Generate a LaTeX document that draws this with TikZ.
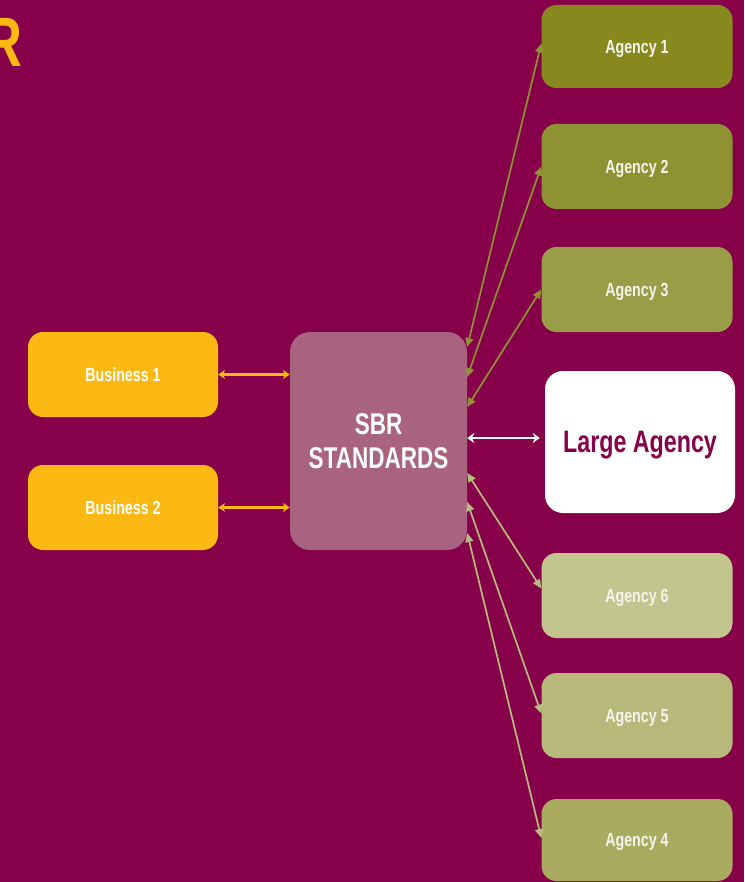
\documentclass[tikz,border=0pt]{standalone}
\usepackage{fontspec}
\setmainfont{Liberation Sans}
\newfontfamily\condfont[FakeStretch=0.75]{Liberation Sans Bold}
\usetikzlibrary{arrows.meta,calc}
\definecolor{bgc}{HTML}{87004A}
\definecolor{bizc}{HTML}{FDB913}
\definecolor{sbrc}{HTML}{A8637F}
\definecolor{ag1c}{HTML}{87891E}
\definecolor{ag2c}{HTML}{8F9233}
\definecolor{ag3c}{HTML}{9A9D48}
\definecolor{ag4c}{HTML}{A9AC60}
\definecolor{ag5c}{HTML}{B6B97A}
\definecolor{ag6c}{HTML}{C3C58E}
\definecolor{txtc}{HTML}{F4F4EC}
\definecolor{darkarr}{HTML}{8F9233}
\definecolor{lightarr}{HTML}{B8BB7E}
\tikzset{
  box/.style={rectangle, rounded corners=15pt, minimum width=191pt, minimum height=85pt,
    inner sep=0pt, text depth=0pt, text=txtc, font=\condfont\fontsize{19}{22}\selectfont},
  bizbox/.style={box, fill=bizc, minimum width=190pt, text=white},
  olivearr/.style={draw=darkarr, line width=1.7pt, {Triangle[width=8pt,length=9pt]}-{Triangle[width=8pt,length=9pt]}},
  lightolivearr/.style={olivearr, draw=lightarr},
}
\begin{document}
\begin{tikzpicture}[x=1pt,y=-1pt]
\fill[bgc] (0,0) rectangle (744,882);
\useasboundingbox (0,0) rectangle (744,882);
\begin{scope}
\clip (0,0) rectangle (744,882);
\node[anchor=base east, inner sep=0pt, text=bizc, font=\condfont\fontsize{70}{70}\selectfont] (rr) at (23,67) {R};
\end{scope}
% Businesses
\node[bizbox] (b1) at (123,374.5) {Business 1};
\node[bizbox] (b2) at (123,507.5) {Business 2};
% SBR
\node[rectangle, rounded corners=20pt, fill=sbrc, minimum width=177pt, minimum height=218pt, inner sep=0pt,
  text=white, align=center, font=\condfont\fontsize{30}{34}\selectfont] (sbr) at (378.5,441) {SBR\\STANDARDS};
% Agencies
\node[box, fill=ag1c, minimum height=83pt] (a1) at (637,46.5) {Agency 1};
\node[box, fill=ag2c] (a2) at (637,166.5) {Agency 2};
\node[box, fill=ag3c] (a3) at (637,289.5) {Agency 3};
\node[box, fill=white, rounded corners=18pt, minimum width=190pt, minimum height=142pt, text=bgc,
  font=\condfont\fontsize{31}{34}\selectfont] (la) at (640,442) {Large Agency};
\node[box, fill=ag6c] (a6) at (637,595.5) {Agency 6};
\node[box, fill=ag5c] (a5) at (637,715.5) {Agency 5};
\node[box, fill=ag4c, minimum height=82pt] (a4) at (637,840) {Agency 4};
% Business connectors
\draw[bizc, line width=2.4pt, {Stealth[width=9pt,length=7pt]}-{Stealth[width=9pt,length=7pt]}]
  (b1.east) -- (b1.east -| sbr.west);
\draw[bizc, line width=2.4pt, {Stealth[width=9pt,length=7pt]}-{Stealth[width=9pt,length=7pt]}]
  (b2.east) -- (b2.east -| sbr.west);
% Large agency connector
\draw[white, line width=2.6pt, {Stealth[width=10pt,length=7pt]}-{Stealth[width=10pt,length=7pt]}, shorten >=5pt]
  ([yshift=4pt]la.west -| sbr.east) -- ([yshift=4pt]la.west);
% Agency connectors
\draw[olivearr] ([yshift=94pt]sbr.east) -- ([yshift=3pt]a1.west);
\draw[olivearr] ([yshift=64pt]sbr.east) -- (a2.west);
\draw[olivearr] ([yshift=34pt]sbr.east) -- (a3.west);
\draw[lightolivearr] ([yshift=-32pt]sbr.east) -- ([yshift=7pt]a6.west);
\draw[lightolivearr] ([yshift=-61pt]sbr.east) -- ([yshift=2pt]a5.west);
\draw[lightolivearr] ([yshift=-92pt]sbr.east) -- ([yshift=2pt]a4.west);
\end{tikzpicture}
\end{document}
